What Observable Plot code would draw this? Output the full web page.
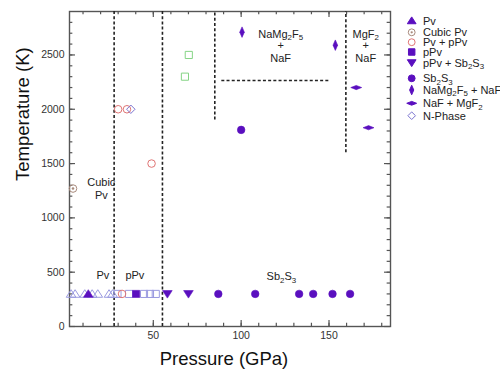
<!DOCTYPE html>
<html><head><meta charset="utf-8">
<script src="https://cdn.jsdelivr.net/npm/d3@7"></script>
<script src="https://cdn.jsdelivr.net/npm/@observablehq/plot@0.6"></script>
<style>
body{margin:0;background:#fff;font-family:"Liberation Sans",Arial,sans-serif}
#wrap{position:relative;width:500px;height:385px}
#legend{position:absolute;left:0;top:0}
</style>
</head><body><div id="wrap"></div>
<script>
// ---- data (pressure GPa, temperature K) ----
const pvP = [13], pvT = [300];
const cubicP = [4.3], cubicT = [1270];
const pvpPvP = [30, 35, 49, 32.2], pvpPvT = [2000, 2000, 1500, 300];
const pPvP = [40.2], pPvT = [300];
const pPvSbP = [58, 70], pPvSbT = [300, 300];
const sbP = [100, 87, 108, 133, 141, 152, 162], sbT = [1810, 300, 300, 300, 300, 300, 300];
const namgP = [100.5, 153.6], namgT = [2710, 2590];
const nafmgP = [165.5, 172.5], nafmgT = [2200, 1830];
const nphaseP = [37.2], nphaseT = [2000];
const openTriP = [3.2, 5.5, 11, 15.2, 18.4, 24.8, 26.8], openTriT = [300, 300, 300, 300, 300, 300, 300];
const openSqP = [29.6, 36.2, 44.7, 48.1, 51.4], openSqT = [300, 300, 300, 300, 300];
const greenSqP = [70.2, 68], greenSqT = [2500, 2300];
// phase boundaries (dashed)
const vBoundP = [27.7, 55.2, 85, 159.6];
const vBoundT1 = [0, 0, 1900, 1600];
const vBoundT2 = [2900, 2900, 2900, 2900];
const hBoundT = [2265], hBoundP1 = [89], hBoundP2 = [150];
// region labels
const labelText = ["Cubic", "Pv", "Pv", "pPv", "Sb_2S_3", "NaMg_2F_5", "+", "NaF", "MgF_2", "+", "NaF"];
const labelP = [20.4, 20.4, 21.3, 39.5, 122.9, 122.5, 122.5, 122.5, 170.9, 170.9, 170.9];
const labelT = [1322, 1205, 466, 466, 460, 2693, 2585, 2463, 2693, 2585, 2463];
// axis ticks
const xMajor = [50, 100, 150];
const xMinor = d3.range(10, 190, 10);
const yMajor = [0, 500, 1000, 1500, 2000, 2500];
const yMinor = d3.range(100, 2900, 100);
const xDomain = [2.3, 185], yDomain = [0, 2900];

// ---- symbols ----
const sym = f => ({draw(ctx, size) { f(ctx, Math.sqrt(size / Math.PI)); }});
const poly = (ctx, pts) => { ctx.moveTo(pts[0][0], pts[0][1]); for (const p of pts.slice(1)) ctx.lineTo(p[0], p[1]); ctx.closePath(); };
const triUp = sym((c, r) => poly(c, [[0, -r], [r * 1.15, r * 0.8], [-r * 1.15, r * 0.8]]));
const triDown = sym((c, r) => poly(c, [[0, r], [r * 1.15, -r * 0.8], [-r * 1.15, -r * 0.8]]));
const square = sym((c, r) => poly(c, [[-r * .85, -r * .85], [r * .85, -r * .85], [r * .85, r * .85], [-r * .85, r * .85]]));
const circ = sym((c, r) => { c.moveTo(r * .9, 0); c.arc(0, 0, r * .9, 0, 2 * Math.PI); });
const diam = sym((c, r) => poly(c, [[0, -r], [r, 0], [0, r], [-r, 0]]));
const thinV = sym((c, r) => poly(c, [[0, -r * 1.25], [r * .55, 0], [0, r * 1.25], [-r * .55, 0]]));
const thinH = sym((c, r) => poly(c, [[-r * 1.3, 0], [0, -r * .5], [r * 1.3, 0], [0, r * .5]]));
const dotIn = sym((c, r) => { c.moveTo(r * .3, 0); c.arc(0, 0, r * .3, 0, 2 * Math.PI); });

const PURPLE = "#5a0fbf", LAV = "#9a9ae0", RED = "#e07474", CUB = "#a88a7c", GREEN = "#86d486";

const pts = (P, T) => P.map((p, i) => ({p, t: T[i]}));
const D = (P, T, o) => Plot.dot(pts(P, T), {x: "p", y: "t", r: 4.2, ...o});

const tickLenX = [55, 30], tickLenY = [3.4, 1.9];

const chart = Plot.plot({
  width: 500, height: 385,
  marginLeft: 69, marginRight: 110, marginTop: 11, marginBottom: 59,
  x: {domain: xDomain, axis: null},
  y: {domain: yDomain, axis: null},
  style: {fontFamily: '"Liberation Sans", Arial, sans-serif', background: "transparent"},
  marks: [
    // inward ticks on four sides
    Plot.ruleX(xMajor, {x: d => d, y1: 0, y2: tickLenX[0], stroke: "#555", strokeWidth: 1.2}),
    Plot.ruleX(xMinor, {x: d => d, y1: 0, y2: tickLenX[1], stroke: "#555", strokeWidth: 1.2}),
    Plot.ruleX(xMajor, {x: d => d, y1: yDomain[1] - tickLenX[0], y2: yDomain[1], stroke: "#555", strokeWidth: 1.2}),
    Plot.ruleX(xMinor, {x: d => d, y1: yDomain[1] - tickLenX[1], y2: yDomain[1], stroke: "#555", strokeWidth: 1.2}),
    Plot.ruleY(yMajor, {y: d => d, x1: xDomain[0], x2: xDomain[0] + tickLenY[0], stroke: "#555", strokeWidth: 1.2}),
    Plot.ruleY(yMinor, {y: d => d, x1: xDomain[0], x2: xDomain[0] + tickLenY[1], stroke: "#555", strokeWidth: 1.2}),
    Plot.ruleY(yMajor, {y: d => d, x1: xDomain[1] - tickLenY[0], x2: xDomain[1], stroke: "#555", strokeWidth: 1.2}),
    Plot.ruleY(yMinor, {y: d => d, x1: xDomain[1] - tickLenY[1], x2: xDomain[1], stroke: "#555", strokeWidth: 1.2}),
    Plot.frame({stroke: "#555", strokeWidth: 1.4}),
    Plot.axisX({ticks: xMajor, tickSize: 0, tickPadding: 5, fontSize: 10.5, label: null, color: "#333", tickFormat: d => String(d)}),
    Plot.axisY({ticks: yMajor, tickSize: 0, tickPadding: 5, fontSize: 10.5, label: null, color: "#333", tickFormat: d => String(d)}),
    Plot.text(["Pressure (GPa)"], {frameAnchor: "bottom", dx: -6, dy: 38, fontSize: 18.5, fill: "#111"}),
    Plot.text(["Temperature (K)"], {frameAnchor: "left", rotate: -90, dx: -46, dy: 12, fontSize: 18.5, fill: "#111"}),
    // boundaries
    Plot.ruleX(vBoundP.map((p, i) => ({p, t1: vBoundT1[i], t2: vBoundT2[i]})), {x: "p", y1: "t1", y2: "t2", stroke: "#222", strokeWidth: 1.6, strokeDasharray: "3,2.2"}),
    Plot.ruleY(hBoundT.map((t, i) => ({t, p1: hBoundP1[i], p2: hBoundP2[i]})), {y: "t", x1: "p1", x2: "p2", stroke: "#222", strokeWidth: 1.6, strokeDasharray: "3,2.2"}),
    // data
    D(openTriP, openTriT, {symbol: triUp, stroke: LAV, fill: "white", fillOpacity: 0, strokeWidth: 1}),
    D(openSqP, openSqT, {symbol: square, stroke: LAV, fill: "white", fillOpacity: 0, strokeWidth: 1}),
    D(greenSqP, greenSqT, {symbol: square, stroke: GREEN, fill: "none", strokeWidth: 1}),
    D(pvpPvP, pvpPvT, {symbol: circ, stroke: RED, fill: "none", strokeWidth: 1}),
    D(nphaseP, nphaseT, {symbol: diam, stroke: "#7b74d0", fill: "none", strokeWidth: 1}),
    D(cubicP, cubicT, {symbol: circ, stroke: CUB, fill: "none", strokeWidth: 1}),
    D(cubicP, cubicT, {symbol: dotIn, fill: CUB, stroke: "none"}),
    D(pvP, pvT, {symbol: triUp, fill: PURPLE, stroke: PURPLE, strokeWidth: 0.6}),
    D(pPvP, pPvT, {symbol: square, fill: PURPLE, stroke: PURPLE, strokeWidth: 0.6}),
    D(pPvSbP, pPvSbT, {symbol: triDown, fill: PURPLE, stroke: PURPLE, strokeWidth: 0.6}),
    D(sbP, sbT, {symbol: circ, fill: PURPLE, stroke: PURPLE, strokeWidth: 0.6}),
    D(namgP, namgT, {symbol: thinV, fill: PURPLE, stroke: PURPLE, strokeWidth: 0.6}),
    D(nafmgP, nafmgT, {symbol: thinH, fill: PURPLE, stroke: PURPLE, strokeWidth: 0.6}),
    // labels
    Plot.text(labelText.map((s, i) => ({s, p: labelP[i], t: labelT[i]})), {x: "p", y: "t", text: "s", fontSize: 11, fill: "#222"})
  ]
});

// render "_d" as a subscript digit using tspans shifted with dy
function subscriptify(textEl) {
  const s = textEl.textContent;
  if (!s.includes("_")) return;
  textEl.textContent = "";
  const parts = s.split(/_(\d)/);
  const shift = 2.6;
  let down = false;
  parts.forEach((part, i) => {
    if (!part) return;
    const ts = document.createElementNS("http://www.w3.org/2000/svg", "tspan");
    ts.textContent = part;
    if (i % 2 === 1) {
      ts.setAttribute("font-size", "72%");
      if (!down) { ts.setAttribute("dy", shift); down = true; }
    } else if (down) {
      ts.setAttribute("dy", -shift); down = false;
    }
    textEl.appendChild(ts);
  });
}
chart.querySelectorAll("text").forEach(subscriptify);

const wrap = document.getElementById("wrap");
wrap.appendChild(chart);

// ---- legend ----
const legendLabels = ["Pv", "Cubic Pv", "Pv + pPv", "pPv", "pPv + Sb_2S_3", "Sb_2S_3", "NaMg_2F_5 + NaF", "NaF + MgF_2", "N-Phase"];
const legendRowY = [20.7, 32.3, 42.2, 52, 62.8, 78.3, 90, 103.3, 115.7];
const legendSyms = [
  [{s: triUp, fill: PURPLE, stroke: PURPLE}],
  [{s: circ, fill: "none", stroke: CUB}, {s: dotIn, fill: CUB, stroke: "none"}],
  [{s: circ, fill: "none", stroke: RED}],
  [{s: square, fill: PURPLE, stroke: PURPLE}],
  [{s: triDown, fill: PURPLE, stroke: PURPLE}],
  [{s: circ, fill: PURPLE, stroke: PURPLE}],
  [{s: thinV, fill: PURPLE, stroke: PURPLE}],
  [{s: thinH, fill: PURPLE, stroke: PURPLE}],
  [{s: diam, fill: "none", stroke: "#7b74d0"}]
];
const svg = d3.select(wrap).append("svg").attr("id", "legend").attr("width", 500).attr("height", 385);
const symPath = (s, r) => { const p = d3.path(); s.draw(p, r * r * Math.PI); return p.toString(); };
legendLabels.forEach((lab, i) => {
  const y = legendRowY[i];
  legendSyms[i].forEach(o => {
    svg.append("path").attr("d", symPath(o.s, 3.8)).attr("transform", `translate(411.7,${y})`)
      .attr("fill", o.fill).attr("stroke", o.stroke).attr("stroke-width", 1);
  });
  const t = svg.append("text").attr("x", 423).attr("y", y + 3.8)
    .attr("font-size", 11).attr("fill", "#222").attr("font-family", '"Liberation Sans", Arial, sans-serif').text(lab);
  subscriptify(t.node());
});
</script>
</body></html>
